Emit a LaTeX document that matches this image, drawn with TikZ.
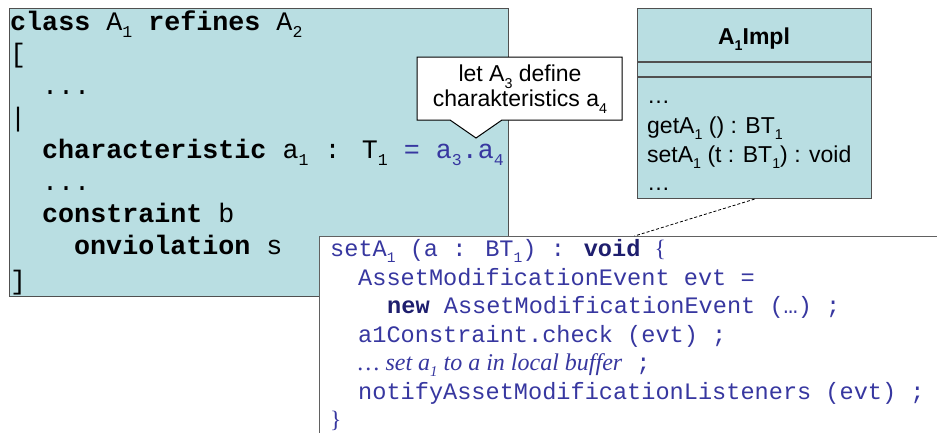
\documentclass[tikz,border=0pt]{standalone}
\usepackage{fontspec}
\setmainfont{Liberation Sans}
\newfontfamily\lmono{Liberation Mono}
\newfontfamily\ltimes{Liberation Serif}
\newcommand\sbs[1]{\raisebox{-0.28em}{\scalebox{0.62}{#1}}}
\definecolor{boxfill}{RGB}{185,222,226}
\definecolor{boxline}{RGB}{80,80,80}
\definecolor{codeblue}{RGB}{55,55,160}
\definecolor{keyblue}{RGB}{30,30,110}
\tikzset{
  bigmono/.style={font=\lmono\fontsize{26.7}{32}\selectfont, inner sep=0pt, anchor=base west},
  codetxt/.style={font=\lmono\fontsize{23.6}{28.6}\selectfont, text=codeblue, inner sep=0pt, anchor=base west},
  sanstxt/.style={font=\fontsize{23}{27}\selectfont, inner sep=0pt},
  classbox/.style={draw=boxline, fill=boxfill, line width=1.1pt, inner sep=0pt},
}
\begin{document}
\begin{tikzpicture}[x=1pt,y=-1pt]
\useasboundingbox (0,0) rectangle (937,432);
% left class box
\node[classbox, minimum width=499pt, minimum height=288pt, anchor=north west] (cls) at (9,8) {};
\node[bigmono] (l1) at (10,30) {{\bfseries class} A\sbs{1} {\bfseries refines} A\sbs{2}};
\node[bigmono] (l2) at (10,62) {[};
\node[bigmono] (l3) at (42,94) {...};
\node[bigmono] (l4) at (10,126) {|};
\node[bigmono] (l5) at (42,158) {{\bfseries characteristic} a\sbs{1} : T\sbs{1} \textcolor{codeblue}{= a\sbs{3}.a\sbs{4}}};
\node[bigmono] (l6) at (42,190) {...};
\node[bigmono] (l7) at (42,222) {{\bfseries constraint} b};
\node[bigmono] (l8) at (74,254) {{\bfseries onviolation} s};
\node[bigmono] (l9) at (10,289) {]};
% callout
\draw[fill=white, line width=1pt] (417,57) -- (622,57) -- (622,120) -- (502,120) -- (476,138) -- (450,120) -- (417,120) -- cycle;
\node[sanstxt, align=center, font=\fontsize{23}{25}\selectfont] (note) at (520,89) {let A\sbs{3} define\\charakteristics a\sbs{4}};
% A1Impl box
\node[classbox, minimum width=234pt, minimum height=190pt, anchor=north west] (impl) at (637,8) {};
\draw[boxline, line width=1.1pt] ([yshift=-54pt]impl.north west) -- ([yshift=-54pt]impl.north east);
\draw[boxline, line width=1.1pt] ([yshift=-69pt]impl.north west) -- ([yshift=-69pt]impl.north east);
\node[sanstxt, anchor=base, font=\bfseries\fontsize{23}{27}\selectfont] (title) at (754,44) {A\sbs{1}Impl};
\node[sanstxt, anchor=base west] (m1) at (647,103) {\ldots};
\node[sanstxt, anchor=base west] (m2) at (647,133) {getA\sbs{1} () : BT\sbs{1}};
\node[sanstxt, anchor=base west] (m3) at (647,162) {setA\sbs{1} (t : BT\sbs{1}) : void};
\node[sanstxt, anchor=base west] (m4) at (647,190) {\ldots};
% code box
\node[draw=boxline!90, fill=white, line width=1pt, minimum width=630pt, minimum height=210pt, anchor=north west, inner sep=0pt] (code) at (319,236) {};
\draw[dashed, dash pattern=on 3pt off 2pt, line width=0.8pt] (impl.south) -- (code.north);
\node[codetxt] (c1) at (330,256) {setA\sbs{1} (a : BT\sbs{1}) : {\bfseries\color{keyblue}void} {\ltimes\{}};
\node[codetxt] (c2) at (358,285) {AssetModificationEvent evt =};
\node[codetxt] (c3) at (387,313) {{\bfseries\color{keyblue}new} AssetModificationEvent (…) ;};
\node[codetxt] (c4) at (358,342) {a1Constraint.check (evt) ;};
\node[codetxt] (c5) at (358,370) {{\ltimes\itshape\fontsize{24}{28}\selectfont … set a\sbs{1} to a in local buffer}\hspace{14pt};};
\node[codetxt] (c6) at (358,399) {notifyAssetModificationListeners (evt) ;};
\node[codetxt] (c7) at (330,427) {{\ltimes\}}};
\end{tikzpicture}
\end{document}
